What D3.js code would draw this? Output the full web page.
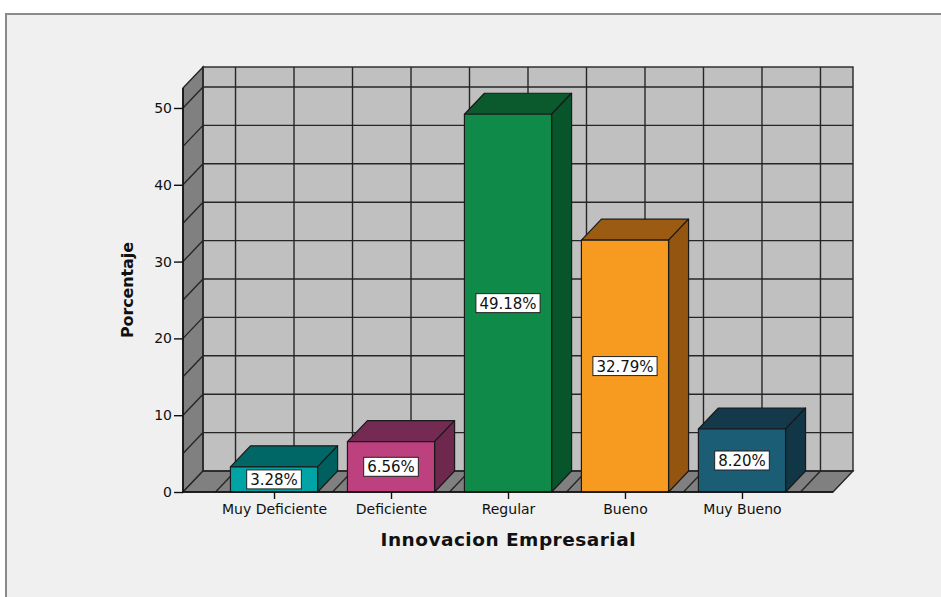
<!DOCTYPE html>
<html>
<head>
<meta charset="utf-8">
<script src="https://cdn.jsdelivr.net/npm/d3@7"></script>
<style>
  html, body { margin: 0; padding: 0; background: #ffffff; }
  svg { display: block; }
</style>
</head>
<body>
<svg id="chart" width="941" height="597"></svg>
<script>
// Innovacion Empresarial — percentage per rating level
const categories = ["Muy Deficiente", "Deficiente", "Regular", "Bueno", "Muy Bueno"];
const values = [3.28, 6.56, 49.18, 32.79, 8.20];
const valueLabels = ["3.28%", "6.56%", "49.18%", "32.79%", "8.20%"];
const yTicks = [0, 10, 20, 30, 40, 50];
const gridValues = [5, 10, 15, 20, 25, 30, 35, 40, 45, 50];
const frontColors = ["#00a4a4", "#bd407f", "#0f8a48", "#f79a20", "#1b5d75"];
const topColors   = ["#006666", "#742a52", "#0a5a2d", "#9c5b12", "#13394a"];
const sideColors  = ["#005f5f", "#6e284e", "#09552b", "#945510", "#113646"];

const svg = d3.select("#chart");

// frame
svg.append("rect").attr("x", 0).attr("y", 0).attr("width", 941).attr("height", 597).attr("fill", "#ffffff");
svg.append("rect").attr("x", 6).attr("y", 14).attr("width", 960).attr("height", 620)
  .attr("fill", "#f0f0f0").attr("stroke", "#8a8a8a").attr("stroke-width", 2);

// plot geometry (front plane) and depth offset
const left = 183, right = 833, bottom = 492;
const dx = 20, dy = 21;

const x = d3.scalePoint().domain(categories).range([left, right]).padding(0.778);
const step = x.step();
const barW = step * 0.745;
const y = d3.scaleLinear().domain([0, 52.6]).range([bottom, 88]);
const yTop = y.domain()[1];

const gridStroke = "#262626";
const gridW = 1.4;

// back wall
svg.append("rect")
  .attr("x", left + dx).attr("y", y(yTop) - dy)
  .attr("width", right - left).attr("height", y(0) - y(yTop))
  .attr("fill", "#c0c0c0");

// vertical grid positions: category centers and midpoints between them
const vGrid = [];
categories.forEach(c => {
  vGrid.push(x(c) - step / 2);
  vGrid.push(x(c));
});
vGrid.push(x(categories[categories.length - 1]) + step / 2);

// left side panel
svg.append("path")
  .attr("d", `M${left},${y(yTop)}L${left + dx},${y(yTop) - dy}L${left + dx},${y(0) - dy}L${left},${y(0)}Z`)
  .attr("fill", "#808080").attr("stroke", gridStroke).attr("stroke-width", gridW);

// floor
svg.append("path")
  .attr("d", `M${left},${y(0)}L${left + dx},${y(0) - dy}L${right + dx},${y(0) - dy}L${right},${y(0)}Z`)
  .attr("fill", "#808080").attr("stroke", gridStroke).attr("stroke-width", gridW);

// horizontal grid on back wall + diagonals on left panel
const hg = svg.append("g").attr("stroke", gridStroke).attr("stroke-width", gridW);
gridValues.forEach(v => {
  hg.append("line").attr("x1", left + dx).attr("x2", right + dx)
    .attr("y1", y(v) - dy).attr("y2", y(v) - dy);
  hg.append("line").attr("x1", left).attr("x2", left + dx)
    .attr("y1", y(v)).attr("y2", y(v) - dy);
});
// vertical grid on back wall + diagonals on floor
vGrid.forEach(gx => {
  hg.append("line").attr("x1", gx + dx).attr("x2", gx + dx)
    .attr("y1", y(yTop) - dy).attr("y2", y(0) - dy);
  hg.append("line").attr("x1", gx).attr("x2", gx + dx)
    .attr("y1", y(0)).attr("y2", y(0) - dy);
});
// back wall outline
svg.append("rect")
  .attr("x", left + dx).attr("y", y(yTop) - dy)
  .attr("width", right - left).attr("height", y(0) - y(yTop))
  .attr("fill", "none").attr("stroke", gridStroke).attr("stroke-width", gridW);

// bars
const bars = svg.append("g").attr("stroke", "#1a1a1a").attr("stroke-width", 1.2).attr("stroke-linejoin", "round");
categories.forEach((c, i) => {
  const x0 = x(c) - barW / 2, x1 = x(c) + barW / 2;
  const yv = y(values[i]), y0 = y(0);
  // top face
  bars.append("path")
    .attr("d", `M${x0},${yv}L${x0 + dx},${yv - dy}L${x1 + dx},${yv - dy}L${x1},${yv}Z`)
    .attr("fill", topColors[i]);
  // right side face
  bars.append("path")
    .attr("d", `M${x1},${yv}L${x1 + dx},${yv - dy}L${x1 + dx},${y0 - dy}L${x1},${y0}Z`)
    .attr("fill", sideColors[i]);
  // front face
  bars.append("rect")
    .attr("x", x0).attr("y", yv).attr("width", barW).attr("height", y0 - yv)
    .attr("fill", frontColors[i]);
});

// value labels
const labels = svg.append("g");
categories.forEach((c, i) => {
  const cy = (y(values[i]) + y(0)) / 2;
  const g = labels.append("g");
  const t = g.append("text")
    .attr("x", x(c)).attr("y", cy + 5.5)
    .attr("text-anchor", "middle")
    .attr("font-family", "DejaVu Sans, sans-serif").attr("font-size", 15)
    .attr("fill", "#111")
    .text(valueLabels[i]);
  const w = t.node().getComputedTextLength();
  g.insert("rect", "text")
    .attr("x", x(c) - w / 2 - 3.5).attr("y", cy - 9.5)
    .attr("width", w + 7).attr("height", 19)
    .attr("fill", "#ffffff").attr("stroke", "#222").attr("stroke-width", 1);
});

// front axes
svg.append("line").attr("x1", left).attr("x2", left).attr("y1", y(yTop)).attr("y2", y(0))
  .attr("stroke", "#111").attr("stroke-width", 1.6);
svg.append("line").attr("x1", left).attr("x2", right).attr("y1", y(0)).attr("y2", y(0))
  .attr("stroke", "#111").attr("stroke-width", 1.6);

// y axis ticks
const yAxis = svg.append("g").attr("transform", `translate(${left},0)`)
  .call(d3.axisLeft(y).tickValues(yTicks).tickSize(9).tickPadding(2).tickFormat(d3.format("d")));
yAxis.select(".domain").remove();
yAxis.selectAll(".tick line").attr("stroke", "#111").attr("stroke-width", 1.4);
yAxis.selectAll(".tick text").attr("font-family", "DejaVu Sans, sans-serif").attr("font-size", 14).attr("fill", "#111");

// x axis ticks
const xAxis = svg.append("g").attr("transform", `translate(0,${bottom})`)
  .call(d3.axisBottom(x).tickSize(7).tickPadding(5));
xAxis.select(".domain").remove();
xAxis.selectAll(".tick line").attr("stroke", "#111").attr("stroke-width", 1.4);
xAxis.selectAll(".tick text").attr("font-family", "DejaVu Sans, sans-serif").attr("font-size", 14).attr("fill", "#111");

// axis titles
svg.append("text")
  .attr("x", 508).attr("y", 546)
  .attr("text-anchor", "middle")
  .attr("font-family", "DejaVu Sans, sans-serif").attr("font-weight", "bold").attr("font-size", 18.5)
  .attr("textLength", 255).attr("lengthAdjust", "spacing")
  .attr("fill", "#111")
  .text("Innovacion Empresarial");

svg.append("text")
  .attr("transform", "translate(133,290) rotate(-90)")
  .attr("text-anchor", "middle")
  .attr("font-family", "DejaVu Sans, sans-serif").attr("font-weight", "bold").attr("font-size", 16)
  .attr("textLength", 96).attr("lengthAdjust", "spacing")
  .attr("fill", "#111")
  .text("Porcentaje");
</script>
</body>
</html>
